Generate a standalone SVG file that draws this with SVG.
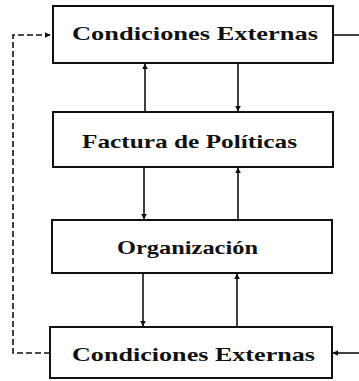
<svg xmlns="http://www.w3.org/2000/svg" width="359" height="381" viewBox="0 0 359 381">
<style>
.box{fill:#fff;stroke:#111;stroke-width:2}
.lbl{font-family:"Liberation Serif","DejaVu Serif",serif;font-weight:bold;font-size:19px;fill:#111}
.ln{fill:none;stroke:#111;stroke-width:1.6}
.dash{fill:none;stroke:#111;stroke-width:1.6;stroke-dasharray:6 3}
</style>
<defs>
<marker id="ah" viewBox="0 0 10 10" refX="9" refY="5" markerWidth="6" markerHeight="6" orient="auto" markerUnits="userSpaceOnUse">
<path d="M0,0 L10,5 L0,10 z" fill="#111"/>
</marker>
</defs>
<rect width="359" height="381" fill="#fff"/>
<g id="connectors">
<line class="ln" x1="145" y1="112" x2="145" y2="64" marker-end="url(#ah)"/>
<line class="ln" x1="238" y1="64" x2="238" y2="111" marker-end="url(#ah)"/>
<line class="ln" x1="144" y1="167" x2="144" y2="219" marker-end="url(#ah)"/>
<line class="ln" x1="238" y1="220" x2="238" y2="168" marker-end="url(#ah)"/>
<line class="ln" x1="143" y1="273" x2="143" y2="326" marker-end="url(#ah)"/>
<line class="ln" x1="237" y1="327" x2="237" y2="274" marker-end="url(#ah)"/>
<polyline class="dash" points="50,353 13,353 13,35 50,35" marker-end="url(#ah)"/>
<line class="ln" x1="333" y1="35" x2="359" y2="35"/>
<line class="ln" x1="359" y1="353" x2="333" y2="353" marker-end="url(#ah)"/>
</g>
<g id="n1">
<rect class="box" x="53" y="6" width="280" height="57"/>
<text class="lbl" x="72" y="40" textLength="246" lengthAdjust="spacingAndGlyphs">Condiciones Externas</text>
</g>
<g id="n2">
<rect class="box" x="53" y="112" width="280" height="55"/>
<text class="lbl" x="82" y="148" textLength="215" lengthAdjust="spacingAndGlyphs">Factura de Políticas</text>
</g>
<g id="n3">
<rect class="box" x="52" y="220" width="280" height="53"/>
<text class="lbl" x="117" y="254" textLength="141" lengthAdjust="spacingAndGlyphs">Organización</text>
</g>
<g id="n4">
<rect class="box" x="50" y="327" width="282" height="51"/>
<text class="lbl" x="72" y="361" textLength="243" lengthAdjust="spacingAndGlyphs">Condiciones Externas</text>
</g>
</svg>
